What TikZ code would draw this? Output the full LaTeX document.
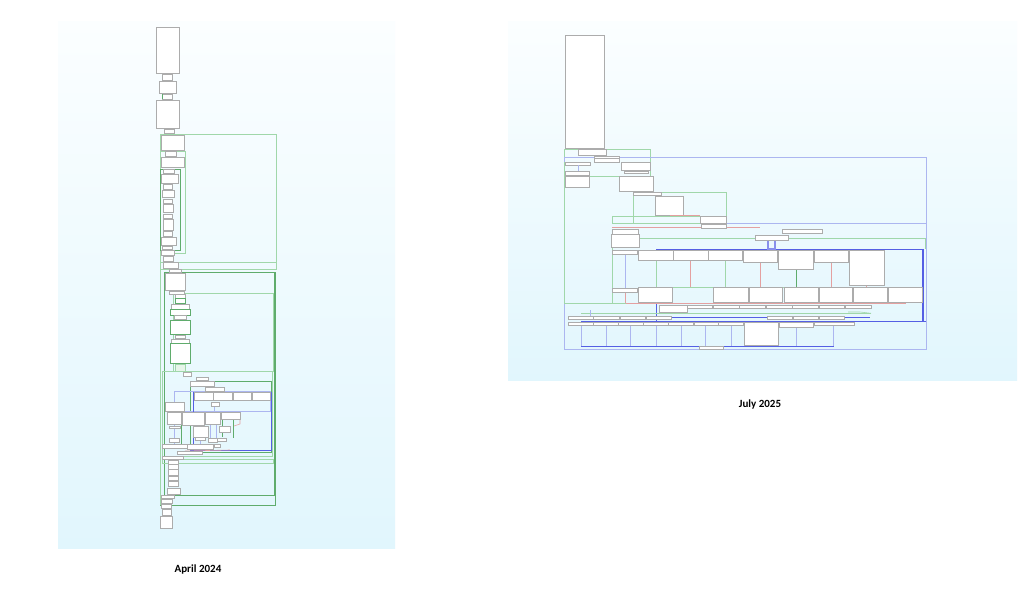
\documentclass[tikz,border=0pt]{standalone}
\usepackage{fontspec}
\setmainfont{Carlito}
\definecolor{boxline}{RGB}{172,172,172}
\definecolor{lgreen}{RGB}{160,215,170}
\definecolor{dgreen}{RGB}{95,172,108}
\definecolor{lblue}{RGB}{172,182,240}
\definecolor{dblue}{RGB}{85,95,228}
\definecolor{lred}{RGB}{228,160,160}
\definecolor{paneltop}{RGB}{251,254,255}
\definecolor{panelbot}{RGB}{225,246,253}
\tikzset{
  wfb/.style={draw=boxline,fill=white,line width=0.7pt},
  lg/.style={draw=lgreen,line width=0.6pt},
  dg/.style={draw=dgreen,line width=0.7pt},
  lb/.style={draw=lblue,line width=0.6pt},
  db/.style={draw=dblue,line width=0.7pt},
  lr/.style={draw=lred,line width=0.6pt},
  caption/.style={font=\bfseries\fontsize{11}{13}\selectfont,text=black}
}
\newcommand{\wfbx}[4]{\draw[wfb] (#1,#2) rectangle (#3,#4);}
\begin{document}
\begin{tikzpicture}[x=1pt,y=-1pt]
\useasboundingbox (0,0) rectangle (1024,601);
\fill[white] (0,0) rectangle (1024,601);
% panels
\shade[top color=paneltop,bottom color=panelbot] (58,22) rectangle (395,548);
\shade[top color=paneltop,bottom color=panelbot] (508,22) rectangle (1017,380);

%%%%%%%%%%%%%%%% LEFT: April 2024 %%%%%%%%%%%%%%%%
% containers
\draw[lg] (160.7,134.3) rectangle (276.3,262);
\draw[lg] (160.7,262) rectangle (276.3,269.3);
\draw[lg] (160.7,151) rectangle (185.7,253);
\draw[dg] (160.7,169) rectangle (180,250);
\draw[dg] (164,272.3) rectangle (275,495);
\draw[dgreen,line width=1.4pt] (275,272.3) -- (275,495);
\draw[lg] (173.3,293.3) rectangle (273.3,371.7);
\draw[lg] (162,371.7) rectangle (272.7,456);
\draw[dg] (190,381) rectangle (271,452);
\draw[lb] (174.3,391.7) rectangle (270.7,411.7);
\draw[db] (193.3,392.3) rectangle (271.3,450.7);
\draw[lg] (162,459.3) rectangle (273.3,463.3);
\draw[dg] (160.7,495) rectangle (275,505);
\draw[lg] (160.7,262) -- (160.7,505);
% inner connectors
\draw[lb] (174,412) -- (174,445);
\draw[lb] (200,425) -- (200,444);
\draw[lb] (210,425) -- (210,440);
\draw[lb] (216,425) -- (216,440);
\draw[dg] (181,424) -- (181,444);
\draw[dg] (222,420) -- (222,437);
\draw[dg] (233,420) -- (233,438);
\draw[lr] (240,419) -- (240,424) -- (234,426);
\draw[db] (190,450) -- (271,450);
\draw[lb] (214,405) -- (214,412);
\draw[lr] (185,451) -- (230,450);
% chain boxes top
\wfbx{156.3}{27}{179.3}{73.3}
\wfbx{162.7}{74.3}{172.7}{80.3}
\wfbx{159.3}{81.3}{176.3}{93}
\wfbx{162.7}{94}{172.7}{99.3}
\draw[dg] (162.7,94) -- (162.7,99.3);
\wfbx{156.3}{100}{179.3}{128.3}
\wfbx{164.3}{129.3}{174.3}{133.7}
\wfbx{161.3}{135}{184.3}{150}
\wfbx{165.3}{151.7}{176}{156}
\wfbx{161.3}{157}{184.3}{167.7}
\wfbx{163.3}{169}{174.3}{173.3}
\wfbx{161.3}{174.3}{178.3}{183.3}
\wfbx{163.3}{184.3}{172.7}{189}
\wfbx{162.3}{190.3}{174.7}{197.7}
\wfbx{163.3}{199}{172.7}{203.3}
\wfbx{163.3}{204}{173.3}{212.7}
\wfbx{163.3}{214}{172.7}{218.3}
\wfbx{163.3}{219.3}{173.3}{230.7}
\wfbx{163.3}{231.3}{172.7}{236}
\wfbx{161.3}{237.3}{176}{245}
\wfbx{162.7}{246}{172.7}{249.3}
\wfbx{161.3}{250.7}{174.7}{255}
\wfbx{163.3}{256.3}{173.3}{261.3}
\wfbx{163.3}{262.7}{178}{268.3}
\wfbx{169.3}{269.3}{181.3}{272.3}
\wfbx{165.3}{273.3}{185.7}{290}
\wfbx{169.3}{291}{184.7}{294.3}
\wfbx{175.3}{294.5}{185}{298}
\draw[dg,fill=white] (175.3,298.3) rectangle (185,303.7);
\wfbx{171.3}{304.3}{189}{309}
\draw[dg,fill=white] (170.3,309.3) rectangle (190.3,315);
\wfbx{174.3}{315.7}{186.3}{319}
\draw[dg,fill=white] (170.3,320) rectangle (190.3,334.3);
\wfbx{175.3}{335.3}{185.3}{338.7}
\wfbx{171.3}{339.3}{189.3}{343.3}
\draw[dg,fill=white] (170.3,343.7) rectangle (190.3,363.3);
\draw[lg,fill=lgreen!25] (175.3,364.3) rectangle (185.3,371.3);
\wfbx{183.3}{372.3}{191.7}{376.7}
\wfbx{196.3}{377}{208}{380.3}
\wfbx{190.3}{381}{214.7}{386.7}
\wfbx{205.3}{387.3}{224.7}{391}
% complex section
\wfbx{194.3}{392.7}{213}{400}
\wfbx{213.7}{392.7}{232.3}{400}
\wfbx{233}{392.7}{251.3}{400}
\wfbx{252}{392.7}{270.3}{400}
\wfbx{211}{402.3}{219}{406.7}
\wfbx{165.3}{402.7}{184.3}{411.7}
\wfbx{167.3}{412.3}{181.7}{424}
\wfbx{182.7}{412.3}{204.7}{425.3}
\wfbx{205.7}{412.3}{220.3}{424}
\wfbx{221.3}{412.3}{240.3}{419.3}
\wfbx{169.3}{426.7}{180}{428.7}
\wfbx{193.3}{426}{208}{437}
\wfbx{219.3}{426}{230}{432.3}
\wfbx{169.3}{438.7}{179.3}{442}
\wfbx{195.3}{437.3}{205.3}{440}
\wfbx{208}{438.3}{217.3}{442.7}
\wfbx{217.7}{438.3}{226}{441}
\wfbx{162.3}{444}{187.3}{448.3}
\wfbx{187.7}{444}{213.7}{449}
\wfbx{214.3}{444}{220}{447.3}
\wfbx{177.7}{451.3}{202}{454.7}
\wfbx{162.7}{456}{183.3}{459}
% lower chain
\wfbx{168.7}{460}{178.7}{464}
\wfbx{168.7}{464.7}{178.7}{469.3}
\wfbx{168.7}{469.3}{178.7}{475.3}
\wfbx{168.7}{476.7}{178.7}{480.7}
\wfbx{168.7}{481.3}{178.7}{486.7}
\wfbx{167.3}{488}{180.7}{494.3}
\wfbx{161.3}{495.3}{174.3}{498.7}
\wfbx{161.3}{499.3}{172}{503.3}
\wfbx{161.3}{504.3}{171.3}{508.3}
\wfbx{162}{509.3}{171.3}{515.3}
\wfbx{160.3}{516.3}{172.7}{528.3}

%%%%%%%%%%%%%%%% RIGHT: July 2025 %%%%%%%%%%%%%%%%
% containers
\draw[lg] (564.7,149.3) rectangle (650.3,176);
\draw[lb] (564.7,157.3) rectangle (926,349.3);
\draw[lg] (564.7,162) -- (564.7,303.3) -- (660,303.3);
\draw[lg] (633.3,192.3) rectangle (726.7,223.3);
\draw[lg] (612,216) rectangle (726,223.3);
\draw[lg] (612,223.3) -- (925,223.3);
\draw[lb] (701.7,223.3) -- (926,223.3) -- (926,321);
\draw[lg] (612,229) -- (612,303.3);
\draw[lr] (612,227.3) -- (760,227.3);
\draw[lg] (638,238.3) -- (925.3,238.3) -- (925.3,249);
\draw[db] (656,249) rectangle (923.3,321);
\draw[dblue,line width=2pt] (923.3,249) -- (923.3,321);
\draw[dblue!70,line width=2pt] (768.3,240.3) rectangle (775,249);
% verticals between rows
\draw[lg] (656,260) -- (656,287.3);
\draw[lr] (690.7,260) -- (690.7,287.3);
\draw[lg] (725.7,260) -- (725.7,287.3);
\draw[lr] (760.3,262.3) -- (760.3,287.3);
\draw[dg] (796,269.3) -- (796,287.3);
\draw[lr] (831,262.3) -- (831,287.3);
\draw[lr] (866,262.3) -- (866,287.3);
\draw[lb] (625,254.3) -- (625,288);
\draw[lr] (625,292.3) -- (625,303.3);
\draw[lg] (638.7,287.3) -- (922.3,287.3);
\draw[lr] (626,303.3) -- (906,303.3);
\draw[lg] (581,313.3) -- (871,313.3);
\draw[lb] (590,310) -- (590,316);
\draw[lg] (848,312) -- (860,312) -- (871,313.3);
\draw[db] (581,321) -- (926,321);
\draw[db] (600,317.5) -- (870,317.5);
% bottom blue verticals
\foreach \xx in {581,606,630.3,656,681,705.7,731.7,796.7,833.7}
  {\draw[lb] (\xx,325) -- (\xx,346);}
\draw[db] (581,346) -- (833.7,346);
\draw[lb] (711,349.3) -- (926,349.3);
% boxes
\wfbx{565.3}{35.3}{604.3}{148.7}
\wfbx{578}{149.3}{606.3}{155.3}
\wfbx{594.3}{156}{619.3}{158.7}
\wfbx{594.3}{158.7}{619.3}{162}
\wfbx{565.3}{162.7}{590.3}{165.3}
\wfbx{621.3}{162.7}{650.3}{170.7}
\wfbx{624}{171}{648.7}{173.7}
\draw[lb] (578,165.3) -- (578,171.3);
\wfbx{565.3}{171.3}{589.7}{175.7}
\wfbx{565.3}{176.7}{589.7}{187}
\wfbx{619.3}{176.3}{653.3}{191.3}
\wfbx{633.3}{192.3}{661}{195.7}
\wfbx{655.3}{196}{683.3}{215.3}
\draw[lr] (670,215.5) -- (700,215.5);
\wfbx{700.7}{216}{726}{223.3}
\wfbx{701.7}{224}{726.7}{228.3}
\wfbx{612}{229}{638.3}{234}
\wfbx{782.7}{229}{822.7}{233.3}
\wfbx{611.3}{234.3}{639.3}{247.7}
\wfbx{755.3}{235}{788}{240.3}
% top row
\wfbx{612.3}{250.3}{637.3}{254.3}
\wfbx{638.7}{250}{673.3}{260}
\wfbx{673.7}{250}{708}{260}
\wfbx{708.7}{250}{742.3}{260}
\wfbx{743.3}{250}{777.3}{262.3}
\wfbx{778}{250}{813.3}{269.3}
\wfbx{814.3}{250}{848}{262.3}
\wfbx{849}{250}{884}{285.3}
% bottom row
\wfbx{612.3}{288}{637.7}{292.3}
\wfbx{638.3}{287.3}{672.3}{302.7}
\wfbx{713.7}{287.3}{748.3}{302.7}
\wfbx{749}{287.3}{782.7}{302.7}
\wfbx{784.3}{287.3}{818}{302.7}
\wfbx{819}{287.3}{852.7}{302.7}
\wfbx{853.7}{287.3}{887.3}{302.7}
\wfbx{888.7}{287.3}{922.3}{302.7}
% small rows
\wfbx{659.3}{305.3}{687}{312}
\foreach \xa/\xb in {687.7/712.7,713.3/739,739.7/765.3,766/792,792.7/818.7,819.3/844.7,845.3/871.3}
  {\wfbx{\xa}{305.3}{\xb}{308.3}}
\foreach \xa/\xb in {568.3/593.7,593.7/619.7,620.3/645.7,646/671.3,767.3/792.3,793/818.3,819.3/844.3}
  {\wfbx{\xa}{316}{\xb}{319.3}}
\foreach \xa/\xb in {568.3/593,593.3/618,618.7/643,643.7/668,668.7/693.3,694/718,718.7/743.3}
  {\wfbx{\xa}{322}{\xb}{325}}
\wfbx{744}{322}{778.7}{345}
\wfbx{779.3}{322}{813.3}{327.3}
\wfbx{814.3}{322}{854}{325}
\wfbx{699.7}{346}{723.3}{349.3}

% captions
\node[caption] (capA) at (198,570) {April 2024};
\node[caption] (capJ) at (760,405) {July 2025};
\end{tikzpicture}
\end{document}
